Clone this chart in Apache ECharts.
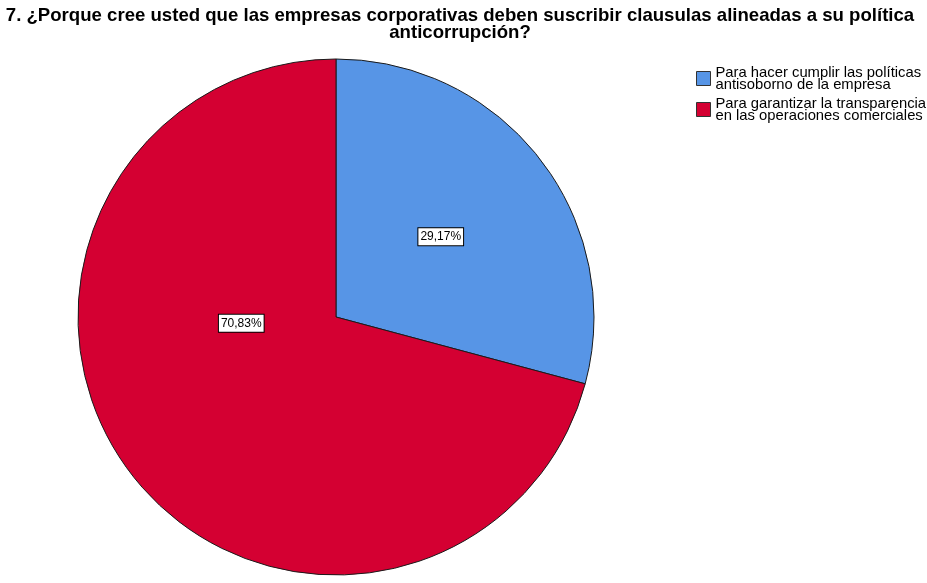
<!DOCTYPE html>
<html>
<head>
<meta charset="utf-8">
<script src="https://cdn.jsdelivr.net/npm/echarts@6/dist/echarts.min.js"></script>
<style>html,body{margin:0;padding:0;background:#fff;}#c{width:927px;height:583px;}</style>
</head>
<body>
<div id="c"></div>
<script>
const titleText = '7. ¿Porque cree usted que las empresas corporativas deben suscribir clausulas alineadas a su política\nanticorrupción?';
const categories = ['Para hacer cumplir las políticas\nantisoborno de la empresa', 'Para garantizar la transparencia\nen las operaciones comerciales'];
const percents = [29.17, 70.83];
const colors = ['#5795e6', '#d40032'];

const chart = echarts.init(document.getElementById('c'), null, {renderer: 'canvas'});
const font = 'Arial, "Liberation Sans", sans-serif';
chart.setOption({
  animation: false,
  title: {
    text: titleText,
    left: 460, top: 7, textAlign: 'center', padding: 0,
    textStyle: {fontFamily: font, fontSize: 18.6, fontWeight: 'bold', color: '#000', lineHeight: 17}
  },
  legend: {
    orient: 'vertical', left: 696, top: 65, padding: 0,
    itemWidth: 14, itemHeight: 14, itemGap: 4,
    icon: 'rect',
    textStyle: {fontFamily: font, fontSize: 14.8, color: '#000', lineHeight: 12},
    itemStyle: {borderColor: '#333', borderWidth: 1},
    data: categories
  },
  series: [{
    type: 'pie',
    center: [336, 317],
    radius: 258,
    startAngle: 90,
    clockwise: true,
    avoidLabelOverlap: false,
    itemStyle: {borderColor: '#1a1a1a', borderWidth: 1},
    label: {
      show: true, position: 'inside',
      formatter: p => p.value.toFixed(2).replace('.', ',') + '%',
      fontFamily: font, fontSize: 12, color: '#000',
      backgroundColor: '#fff', borderColor: '#000', borderWidth: 1,
      padding: [3, 2, 2, 2]
    },
    labelLine: {show: false},
    emphasis: {disabled: true},
    data: categories.map((c, i) => ({
      name: c, value: percents[i],
      itemStyle: {color: colors[i]},
      label: i === 1 ? {offset: [10, -74]} : {}
    }))
  }]
});
</script>
</body>
</html>
